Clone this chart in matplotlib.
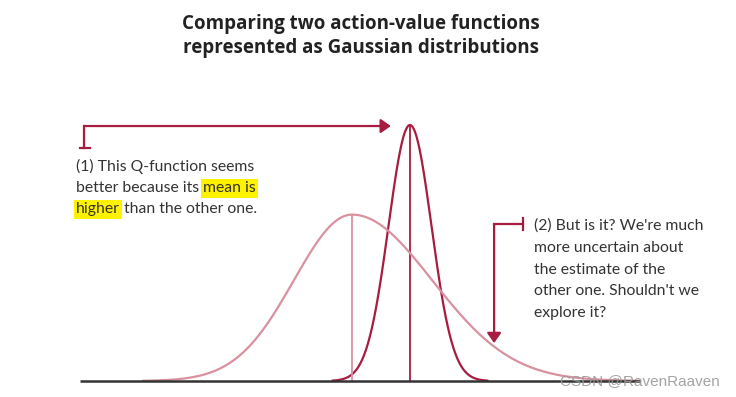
import numpy as np
import matplotlib.pyplot as plt
from matplotlib.patches import Rectangle

# two action-value estimates (value axis in arbitrary units)
names = ["certain", "uncertain"]
means = [1.0, 0.0]
sigma_left = [0.37, 1.0]
sigma_right = [0.37, 1.38]
peaks = [1.0, 0.65]
colors = ["#a81c3f", "#d9919f"]

title = "Comparing two action-value functions\nrepresented as Gaussian distributions"
note1 = ["(1) This Q-function seems", "better because its ", "mean is", "higher", " than the other one."]
note2 = ["(2) But is it? We're much", "more uncertain about", "the estimate of the",
         "other one. Shouldn't we", "explore it?"]

W, H = 736, 397
fig = plt.figure(figsize=(W / 100, H / 100), dpi=100)
ax = fig.add_axes([0, 0, 1, 1])
ax.set_xlim(-352 / 58, 384 / 58)
ax.set_ylim(-16 / 256, 381 / 256)
ax.axis("off")

# baseline
ax.plot([-4.69, 4.97], [0, 0], color="#333333", lw=1.8, solid_capstyle="butt", zorder=3)

for mu, sl, sr, pk, c in zip(means, sigma_left, sigma_right, peaks, colors):
    x = np.linspace(mu - 3.6 * sl, mu + 3.6 * sr, 400)
    s = np.where(x < mu, sl, sr)
    y = pk * np.exp(-0.5 * ((x - mu) / s) ** 2)
    ax.plot(x, y, color=c, lw=1.6, zorder=2)
    ax.plot([mu, mu], [0, pk], color=c, lw=1.3, zorder=2)

arrow_c = "#a81c3f"
head = dict(arrowstyle="-|>,head_length=0.6,head_width=0.42", color=arrow_c, lw=1.6,
            mutation_scale=10, shrinkA=0, shrinkB=0)

# arrow 1: from note 1 to the tall peak
ax.plot([-4.69, -4.52], [0.91, 0.91], color=arrow_c, lw=1.6)
ax.plot([-4.62, -4.62], [0.91, 0.996], color=arrow_c, lw=1.6, solid_capstyle="projecting")
ax.annotate("", xy=(0.67, 0.996), xytext=(-4.62, 0.996), arrowprops=head)

# arrow 2: from note 2 down to the wide tail
ax.plot([2.95, 2.95], [0.59, 0.635], color=arrow_c, lw=1.6)
ax.plot([2.95, 2.45], [0.613, 0.613], color=arrow_c, lw=1.6, solid_capstyle="projecting")
ax.annotate("", xy=(2.45, 0.148), xytext=(2.45, 0.613), arrowprops=head)

# title
fig.text(361 / W, 1 - 36 / H, title, ha="center", va="center", fontsize=13.5,
         fontweight="bold", family="Open Sans", color="#222222", linespacing=1.25)

# notes
txt = dict(fontsize=11.3, family="Lato", color="#333333", va="center")
renderer = fig.canvas.get_renderer()


def width(s):
    t = fig.text(0, 0, s, **txt)
    w = t.get_window_extent(renderer).width
    t.remove()
    return w


space = width("x x") - width("xx")


def put(s, x, y, mark=False):
    lead = space if s.startswith(" ") else 0
    t = fig.text((x + lead) / W, 1 - y / H, s.strip(), **txt, zorder=3)
    bb = t.get_window_extent(renderer)
    if mark:
        fig.patches.append(Rectangle((bb.x0 - 2, bb.y0 - 3), bb.width + 4, bb.height + 5,
                                     transform=None, facecolor="#fff200", edgecolor="none",
                                     zorder=1))
    trail = space if s.endswith(" ") else 0
    return bb.x1 + trail


x0, y0, dy = 76, 166, 21.5
put(note1[0], x0, y0)
xe = put(note1[1], x0, y0 + dy)
put(note1[2], xe, y0 + dy, mark=True)
xe = put(note1[3], x0, y0 + 2 * dy, mark=True)
put(note1[4], xe, y0 + 2 * dy)

for i, line in enumerate(note2):
    put(line, 534, 226 + i * 21.8)

# watermark
fig.text(640 / W, 1 - 381 / H, "CSDN @RavenRaaven", ha="center", va="center",
         fontsize=11, color="#9a9a9a", family="Liberation Sans", alpha=0.9)

fig.savefig("out.png", dpi=100)
